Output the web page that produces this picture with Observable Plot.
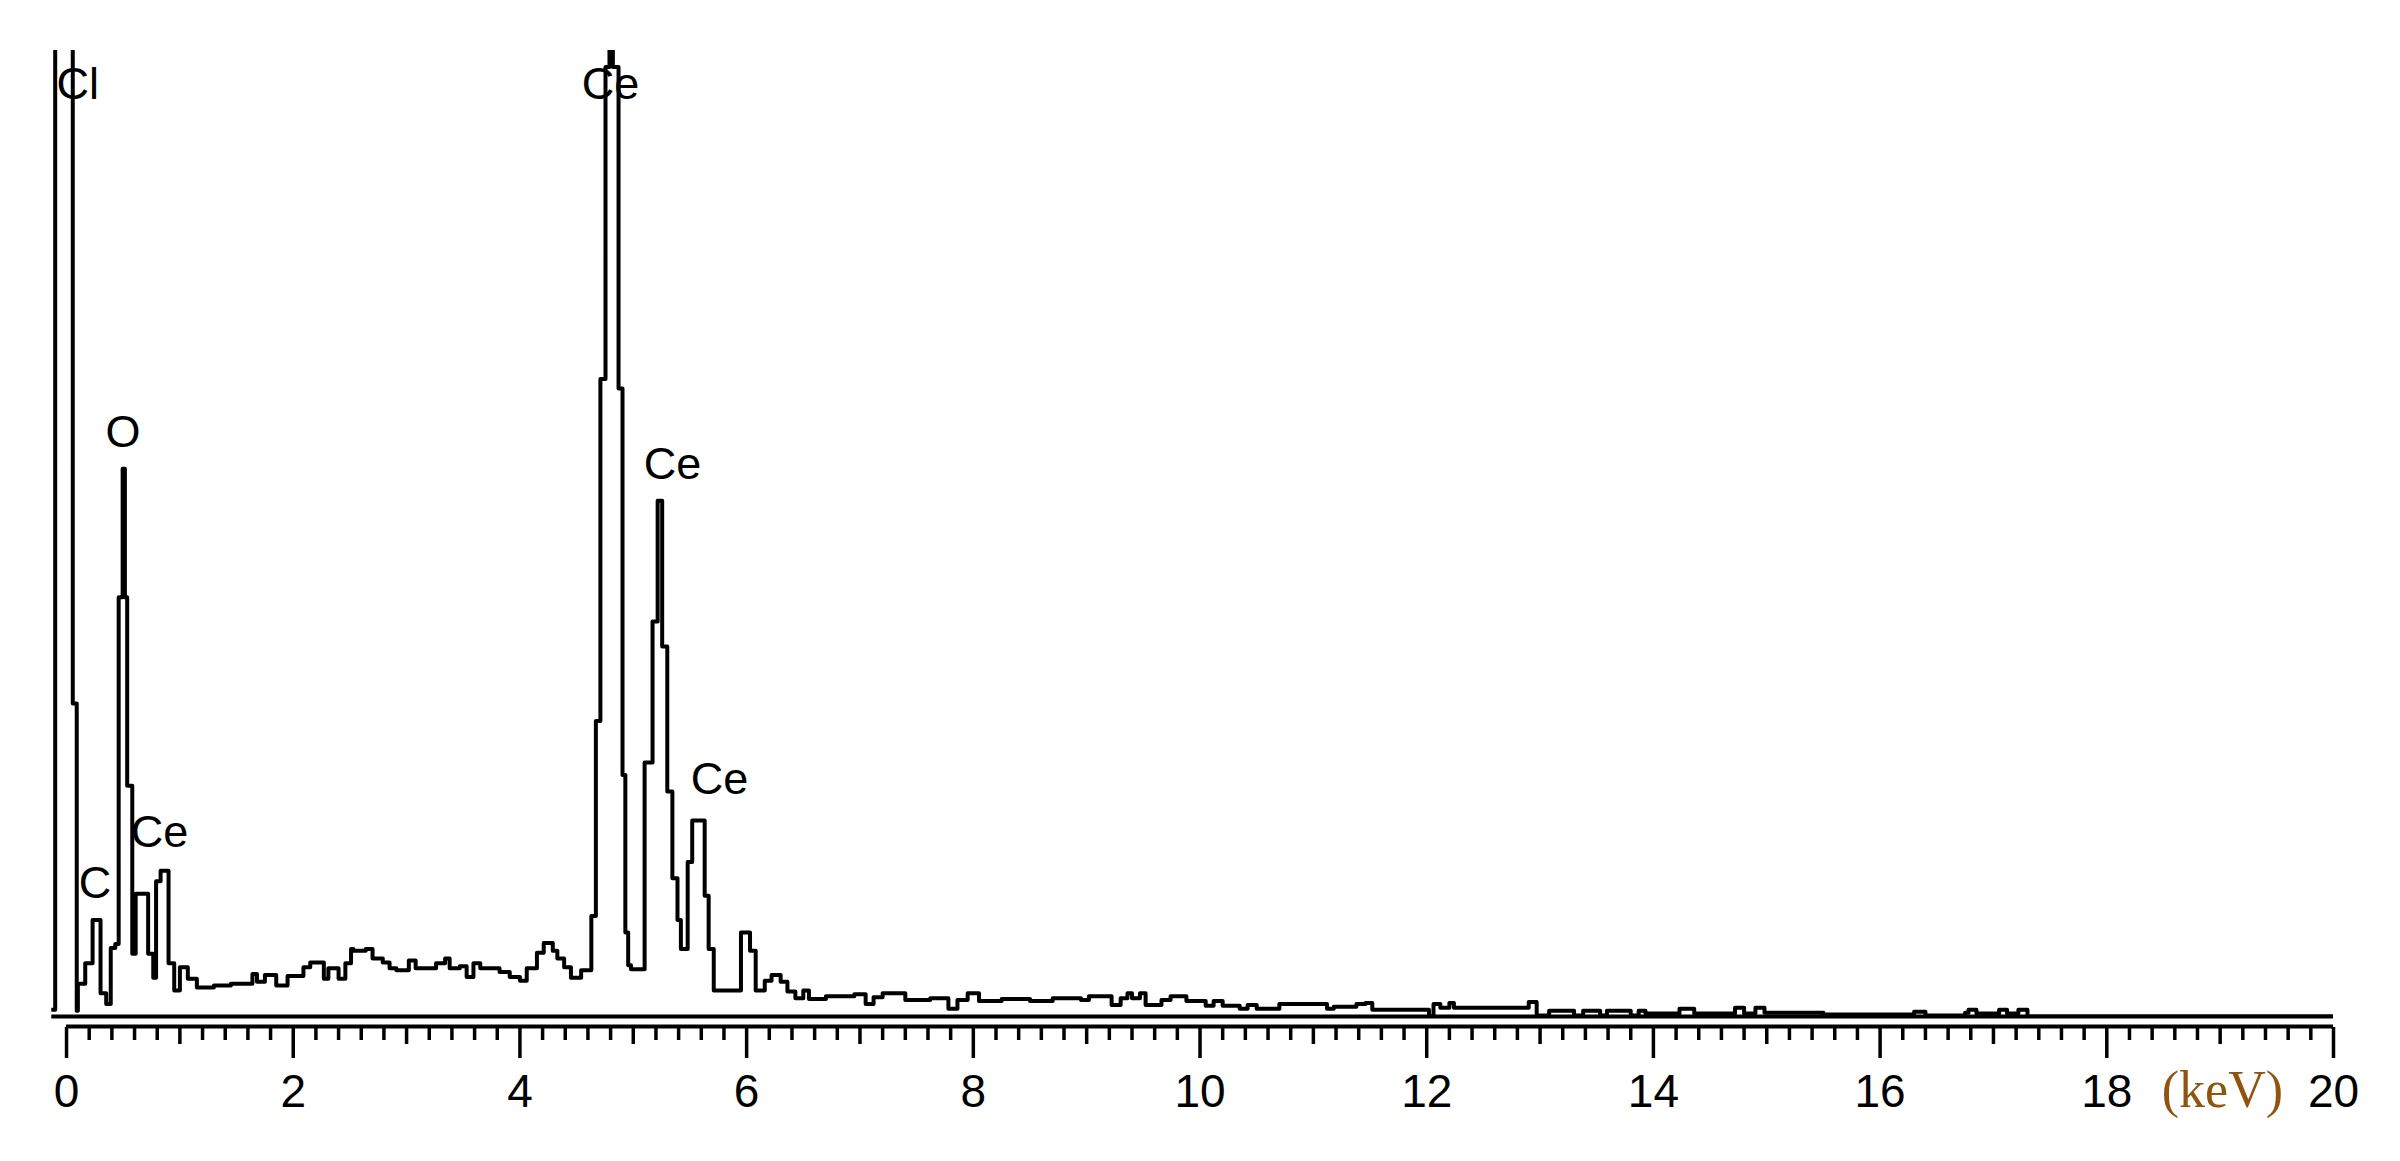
<!DOCTYPE html>
<html><head><meta charset="utf-8">
<script src="https://cdn.jsdelivr.net/npm/d3@7"></script>
<script src="https://cdn.jsdelivr.net/npm/@observablehq/plot@0.6"></script>
<style>html,body{margin:0;padding:0;background:#fff}</style>
</head><body><div id="chart"></div>
<script>
// EDS spectrum, step-starts: energy (keV) and relative counts (0..100 = plot height)
const energy = [-0.13,-0.10,0.055,0.09,0.10,0.165,0.23,0.30,0.35,0.39,0.43,0.46,0.495,0.515,0.535,0.58,0.61,0.72,0.765,0.79,
  0.83,0.90,0.95,1.00,1.07,1.15,1.30,1.45,1.64,1.68,1.75,1.85,1.95,2.09,2.15,2.27,2.31,2.40,2.46,2.51,
  2.53,2.64,2.70,2.79,2.85,2.91,3.02,3.08,3.26,3.34,3.38,3.47,3.53,3.59,3.65,3.82,3.91,4.00,4.06,4.15,
  4.21,4.29,4.33,4.39,4.45,4.54,4.63,4.67,4.71,4.755,4.79,4.82,4.87,4.905,4.93,4.955,4.98,5.10,5.17,5.215,
  5.255,5.30,5.345,5.39,5.42,5.48,5.52,5.63,5.665,5.71,5.95,6.03,6.08,6.16,6.22,6.30,6.36,6.43,6.50,6.55,
  6.70,6.95,7.05,7.12,7.20,7.40,7.62,7.78,7.86,7.95,8.05,8.25,8.50,8.70,8.95,9.02,9.22,9.30,9.36,9.40,
  9.47,9.52,9.66,9.74,9.88,10.05,10.12,10.20,10.35,10.42,10.50,10.70,11.12,11.18,11.38,11.46,11.52,12.02,12.06,12.12,
  12.20,12.24,12.90,12.97,13.08,13.30,13.38,13.53,13.59,13.80,13.87,13.93,14.23,14.36,14.72,14.80,14.90,14.98,15.50,16.30,
  16.40,16.75,16.78,16.85,17.05,17.12,17.22,17.30,20.0];
const counts = [0.7,200,32.4,0.6,3.4,5.5,10.0,2.4,1.3,7.1,7.5,43.4,56.7,43.4,23.9,6.5,12.7,6.5,4.0,14.0,
  15.1,5.5,2.7,5.1,3.9,3.0,3.2,3.4,4.4,3.6,4.3,3.2,4.2,5.1,5.6,3.9,5.0,3.9,5.5,7.0,
  6.8,7.0,6.0,5.6,5.0,4.8,5.8,5.0,5.5,6.0,5.0,5.2,4.1,5.5,5.0,4.6,4.1,3.7,5.0,6.6,
  7.6,6.8,6.0,5.1,4.0,4.8,10.4,30.6,66,98.3,200,98.3,65,25,8.7,5.3,4.9,26.3,40.9,53.4,
  38.3,23.3,14.3,10.0,7.0,16.0,20.3,12.5,7.0,2.7,8.7,6.8,2.7,3.7,4.3,3.6,2.6,1.9,2.7,1.8,
  2.1,2.3,1.3,2.0,2.4,1.7,1.9,0.8,1.7,2.4,1.6,1.8,1.6,1.9,1.7,2.1,1.2,1.9,2.4,1.9,
  2.4,1.2,1.7,2.1,1.6,1.1,1.6,1.1,0.8,1.2,0.8,1.3,0.8,1.0,1.3,1.4,0.7,0.0,1.3,0.9,
  1.4,0.9,1.5,0.1,0.6,0.1,0.6,0.1,0.6,0.1,0.6,0.3,0.8,0.3,0.9,0.3,0.9,0.4,0.2,0.5,
  0.1,0.4,0.7,0.3,0.7,0.3,0.7,0.0,0.0];

// Peak labels
const peakNames = ["Cl","Ce","O","Ce","Ce","Ce","C"];
const peakEnergy = [0.10,4.80,0.498,5.346,5.761,0.820,0.251];
const peakCounts = [96.5,96.5,60.4,57.1,24.5,19.0,13.8];

// Axis ticks
const majorTicks = [0,2,4,6,8,10,12,14,16,18,20];
const majorLabels = ["0","2","4","6","8","10","12","14","16","18","20"];
const oddTicks = [1,3,5,7,9,11,13,15,17,19];
const minorTicks = d3.range(0, 100).map(i => i * 0.2).filter(v => Math.abs(v - Math.round(v)) > 1e-6);
const unitLabel = "(keV)";

const spectrum = energy.map((e, i) => ({e, c: counts[i]}));
const labels = peakNames.map((t, i) => ({t, e: peakEnergy[i], c: peakCounts[i]}));

const chart = Plot.plot({
  width: 2400,
  height: 1161,
  marginLeft: 51.3,
  marginRight: 67,
  marginTop: 50,
  marginBottom: 145,
  x: {domain: [-0.13, 20], label: null},
  y: {domain: [0, 100], axis: null, label: null},
  style: {fontFamily: "'Liberation Sans', Arial, sans-serif", background: "#fff", color: "#000", overflow: "visible"},
  marks: [
    Plot.ruleY([0], {strokeWidth: 4, stroke: "#000"}),
    Plot.ruleY([0], {x1: 0, x2: 20, dy: 10, strokeWidth: 4, stroke: "#000"}),
    Plot.axisX(minorTicks, {tickSize: 13, dy: 11, strokeWidth: 3.5, tickFormat: () => "", stroke: "#000", label: null}),
    Plot.axisX(oddTicks, {tickSize: 17, dy: 11, strokeWidth: 3.5, tickFormat: () => "", stroke: "#000", label: null}),
    Plot.axisX(majorTicks, {tickSize: 31, dy: 11, strokeWidth: 3.5, tickPadding: 16, fontSize: 46, label: null,
      tickFormat: d => majorLabels[majorTicks.indexOf(d)], stroke: "#000", fill: "#000"}),
    Plot.line(spectrum, {x: "e", y: "c", curve: "step-after", strokeWidth: 4, stroke: "#000", clip: true}),
    Plot.text(labels, {x: "e", y: "c", text: "t", fontSize: 45, fill: "#000"}),
    Plot.text([unitLabel], {x: 19.02, y: -7.62, text: d => d, fontSize: 52,
      fontFamily: "'Liberation Serif', 'Times New Roman', serif", fill: "#8f5510"})
  ]
});
document.getElementById("chart").appendChild(chart);
</script>
</body></html>
